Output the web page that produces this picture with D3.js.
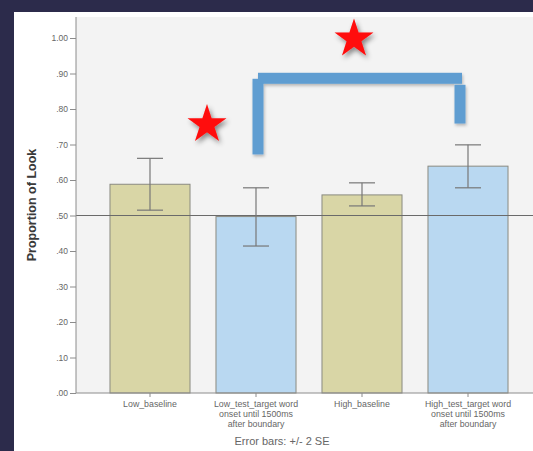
<!DOCTYPE html>
<html><head><meta charset="utf-8">
<script src="https://cdn.jsdelivr.net/npm/d3@7/dist/d3.min.js"></script>
<style>body{margin:0;background:#2c2b4b;}svg{display:block;}</style>
</head><body>
<svg id="c" width="533" height="451"></svg>
<script>
const categories = ["Low_baseline", "Low_test_target word onset until 1500ms after boundary", "High_baseline", "High_test_target word onset until 1500ms after boundary"];
const labelLines = [["Low_baseline"], ["Low_test_target word", "onset until 1500ms", "after boundary"], ["High_baseline"], ["High_test_target word", "onset until 1500ms", "after boundary"]];
const values = [0.588, 0.497, 0.558, 0.639];
const errLow = [0.515, 0.414, 0.527, 0.578];
const errHigh = [0.661, 0.578, 0.592, 0.699];
const groups = ["baseline", "test", "baseline", "test"];
const yTicks = [0, 0.1, 0.2, 0.3, 0.4, 0.5, 0.6, 0.7, 0.8, 0.9, 1.0];
const refValue = 0.5;
// significance annotations (value units)
const bracket = {from: 1, to: 3, top: 0.902, leftBottom: 0.672, rightBottom: 0.759};
const stars = [{between: [0, 1], value: 0.762}, {between: [1, 3], value: 1.003}];

const svg = d3.select("#c");
const W = 533, H = 451;
const plot = {left: 76, right: 533, top: 17, bottom: 393};

const x = d3.scaleBand().domain(categories).range([97, 521]).paddingInner(0.245).paddingOuter(0.1225);
const y = d3.scaleLinear().domain([0, 1]).range([393, 38]);
const color = d3.scaleOrdinal().domain(["baseline", "test"]).range(["#d9d6a6", "#b9d8f1"]);

const defs = svg.append("defs");
const f = defs.append("filter").attr("id", "sh").attr("x", "-50%").attr("y", "-50%").attr("width", "200%").attr("height", "200%");
f.append("feDropShadow").attr("dx", 2).attr("dy", 3).attr("stdDeviation", 2.5).attr("flood-color", "#000").attr("flood-opacity", 0.45);
const f2 = defs.append("filter").attr("id", "sh2").attr("x", "-20%").attr("y", "-20%").attr("width", "140%").attr("height", "140%");
f2.append("feDropShadow").attr("dx", 1).attr("dy", 2).attr("stdDeviation", 1.5).attr("flood-color", "#000").attr("flood-opacity", 0.25);

// frame
svg.append("rect").attr("x", 0).attr("y", 0).attr("width", W).attr("height", H).attr("fill", "#2c2b4b");
svg.append("rect").attr("x", 14).attr("y", 12).attr("width", W - 14).attr("height", H - 12).attr("fill", "#ffffff");
svg.append("rect").attr("x", plot.left).attr("y", plot.top).attr("width", plot.right - plot.left).attr("height", plot.bottom - plot.top).attr("fill", "#f3f3f3");

// bars
const idx = d3.range(categories.length);
svg.append("g").selectAll("rect").data(idx).join("rect")
  .attr("x", i => x(categories[i]))
  .attr("y", i => y(values[i]))
  .attr("width", x.bandwidth())
  .attr("height", i => y(0) - y(values[i]))
  .attr("fill", i => color(groups[i]))
  .attr("stroke", "#8a8a80").attr("stroke-width", 1);

// reference line
svg.append("line").attr("x1", plot.left).attr("x2", plot.right).attr("y1", y(refValue)).attr("y2", y(refValue))
  .attr("stroke", "#6a6a6a").attr("stroke-width", 1);

// error bars
const eb = svg.append("g").attr("stroke", "#777").attr("stroke-width", 1.2).attr("fill", "none");
idx.forEach(i => {
  const cx = x(categories[i]) + x.bandwidth() / 2;
  eb.append("line").attr("x1", cx).attr("x2", cx).attr("y1", y(errLow[i])).attr("y2", y(errHigh[i]));
  eb.append("line").attr("x1", cx - 13).attr("x2", cx + 13).attr("y1", y(errLow[i])).attr("y2", y(errLow[i]));
  eb.append("line").attr("x1", cx - 13).attr("x2", cx + 13).attr("y1", y(errHigh[i])).attr("y2", y(errHigh[i]));
});

// y axis
const yAxis = svg.append("g").attr("transform", `translate(${plot.left},0)`)
  .call(d3.axisLeft(y).tickValues(yTicks).tickSize(6).tickPadding(2)
    .tickFormat(d => d === 1 ? "1.00" : d3.format(".2f")(d).replace(/^0/, "")));
yAxis.select(".domain").attr("d", `M0,${plot.top}V${plot.bottom}`).attr("stroke", "#8c8c8c");
yAxis.selectAll(".tick line").attr("stroke", "#8c8c8c");
yAxis.selectAll(".tick text").attr("fill", "#666").style("font", "8.5px 'Liberation Sans', Arial, sans-serif");

// x axis
const xAxis = svg.append("g").attr("transform", `translate(0,${plot.bottom})`)
  .call(d3.axisBottom(x).tickSize(4).tickFormat(""));
xAxis.select(".domain").attr("d", `M${plot.left},0H${plot.right}`).attr("stroke", "#8c8c8c");
xAxis.selectAll(".tick line").attr("stroke", "#8c8c8c");

// x labels
const lab = svg.append("g").style("font", "8.8px 'Liberation Sans', Arial, sans-serif").attr("fill", "#666").attr("text-anchor", "middle");
idx.forEach(i => {
  const cx = x(categories[i]) + x.bandwidth() / 2;
  labelLines[i].forEach((t, k) => {
    lab.append("text").attr("x", cx).attr("y", 407 + k * 9.8).text(t);
  });
});
svg.append("text").attr("x", 282).attr("y", 445).attr("text-anchor", "middle")
  .style("font", "11px 'Liberation Sans', Arial, sans-serif").attr("fill", "#666").text("Error bars: +/- 2 SE");

// y title
svg.append("text").attr("transform", "translate(36,205) rotate(-90)").attr("text-anchor", "middle")
  .style("font", "bold 12.5px 'Liberation Sans', Arial, sans-serif").attr("fill", "#3a3a3a").text("Proportion of Look");

// bracket
const cxOf = i => x(categories[i]) + x.bandwidth() / 2;
const bx1 = cxOf(bracket.from) + 2, bx2 = cxOf(bracket.to) - 8, th = 11;
const bg = svg.append("g").attr("fill", "#5e9dd1").attr("filter", "url(#sh2)");
bg.append("rect").attr("x", bx1 - th / 2).attr("y", y(bracket.top) + 6).attr("width", th).attr("height", y(bracket.leftBottom) - y(bracket.top) - 6);
bg.append("rect").attr("x", bx1).attr("y", y(bracket.top)).attr("width", bx2 - bx1 + 2).attr("height", th);
bg.append("rect").attr("x", bx2 - th / 2).attr("y", y(bracket.top) + th + 1).attr("width", th).attr("height", y(bracket.rightBottom) - y(bracket.top) - th - 1);

// stars
const starPath = d3.symbol().type(d3.symbolStar).size(470)();
stars.forEach(s => {
  const sx = (cxOf(s.between[0]) + cxOf(s.between[1])) / 2 + (s.between[1] - s.between[0] > 1 ? -8 : 4);
  svg.append("path").attr("d", starPath).attr("transform", `translate(${sx},${y(s.value) + 2})`)
    .attr("fill", "#ff0a0a").attr("filter", "url(#sh)");
});
</script>
</body></html>
